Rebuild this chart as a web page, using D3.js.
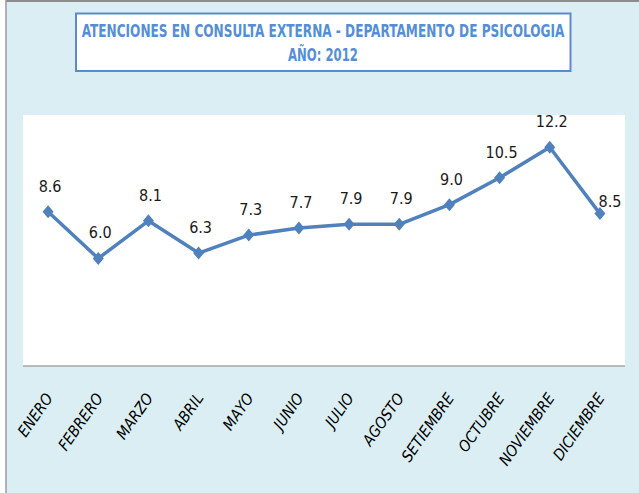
<!DOCTYPE html>
<html>
<head>
<meta charset="utf-8">
<script src="https://cdn.jsdelivr.net/npm/d3@7"></script>
<style>
  html, body { margin: 0; padding: 0; background: #fff; }
  svg { display: block; }
</style>
</head>
<body>
<div id="chart"></div>
<script>
// datos
const meses = ['ENERO', 'FEBRERO', 'MARZO', 'ABRIL', 'MAYO', 'JUNIO', 'JULIO',
  'AGOSTO', 'SETIEMBRE', 'OCTUBRE', 'NOVIEMBRE', 'DICIEMBRE'];
const valores = [8.6, 6.0, 8.1, 6.3, 7.3, 7.7, 7.9, 7.9, 9.0, 10.5, 12.2, 8.5];
const tituloLineas = ['ATENCIONES  EN CONSULTA EXTERNA - DEPARTAMENTO DE PSICOLOGIA', 'AÑO: 2012'];

const width = 639, height = 493;
const plot = { left: 23, right: 625, top: 115, bottom: 366 };
const azul = '#4F81BD';
const fuente = '"Liberation Sans Narrow", "DejaVu Sans Condensed", "Liberation Sans", sans-serif';

const svg = d3.select('#chart').append('svg')
  .attr('width', width)
  .attr('height', height);

// fondo del grafico y borde
svg.append('rect')
  .attr('x', 6).attr('y', 1)
  .attr('width', width - 6).attr('height', height - 1)
  .attr('fill', '#DAEEF3');
svg.append('line')
  .attr('x1', 6).attr('x2', width).attr('y1', 1).attr('y2', 1)
  .attr('stroke', '#8c8c8c').attr('stroke-width', 2);
svg.append('line')
  .attr('x1', 6).attr('x2', 6).attr('y1', 0).attr('y2', height)
  .attr('stroke', '#9a9a9a').attr('stroke-width', 1.5);

// caja del titulo
svg.append('rect')
  .attr('x', 76).attr('y', 13.5)
  .attr('width', 494.5).attr('height', 57.5)
  .attr('fill', '#fff')
  .attr('stroke', '#5B8BC9').attr('stroke-width', 2);

// titulo: se estrecha horizontalmente para que quepa en la caja
const anchosTitulo = [483, 70];
svg.selectAll('.titulo')
  .data(tituloLineas)
  .enter()
  .append('text')
  .attr('class', 'titulo')
  .attr('text-anchor', 'middle')
  .attr('font-family', fuente)
  .attr('font-weight', 'bold')
  .attr('font-size', '17.5px')
  .attr('fill', '#558ED5')
  .text(d => d)
  .attr('transform', function(d, i) {
    const sx = Math.min(1, anchosTitulo[i] / this.getComputedTextLength());
    return `translate(323,${37 + i * 24}) scale(${sx},1)`;
  });

// area de trazado
svg.append('rect')
  .attr('x', plot.left).attr('y', plot.top)
  .attr('width', plot.right - plot.left).attr('height', plot.bottom - plot.top)
  .attr('fill', '#fff');

// escalas
const x = d3.scalePoint()
  .domain(meses)
  .range([plot.left, plot.right])
  .padding(0.5);

const y = d3.scaleLinear()
  .domain([0, 14])
  .range([plot.bottom, plot.top]);

// eje x
const ejeX = svg.append('g')
  .attr('transform', `translate(0,${plot.bottom})`)
  .call(d3.axisBottom(x).tickSize(0).tickPadding(0));
ejeX.select('.domain')
  .attr('stroke', '#a6a6a6')
  .attr('stroke-width', 1.5)
  .attr('d', `M${plot.left},0H${plot.right}`);
ejeX.selectAll('.tick text')
  .attr('font-family', fuente)
  .attr('font-style', 'italic')
  .attr('font-size', '15.5px')
  .attr('fill', '#000')
  .attr('text-anchor', 'end')
  .attr('dy', null)
  .attr('transform', 'translate(5,32) rotate(-55)');

// linea
const linea = d3.line()
  .x((d, i) => x(meses[i]))
  .y(d => y(d));

svg.append('path')
  .datum(valores)
  .attr('fill', 'none')
  .attr('stroke', azul)
  .attr('stroke-width', 3.5)
  .attr('stroke-linejoin', 'round')
  .attr('d', linea);

// marcadores (rombos)
svg.selectAll('.marcador')
  .data(valores)
  .enter()
  .append('path')
  .attr('class', 'marcador')
  .attr('transform', (d, i) => `translate(${x(meses[i])},${y(d)})`)
  .attr('d', 'M0,-6.5L5.5,0L0,6.5L-5.5,0Z')
  .attr('fill', azul);

// etiquetas de datos
svg.selectAll('.etiqueta')
  .data(valores)
  .enter()
  .append('text')
  .attr('class', 'etiqueta')
  .attr('x', (d, i) => x(meses[i]) + (i === meses.length - 1 ? 10 : 2))
  .attr('y', (d, i) => y(d) - (i === meses.length - 1 ? 7 : 20))
  .attr('text-anchor', 'middle')
  .attr('font-family', fuente)
  .attr('font-size', '16px')
  .attr('fill', '#1a1a1a')
  .text(d => d.toFixed(1));
</script>
</body>
</html>
